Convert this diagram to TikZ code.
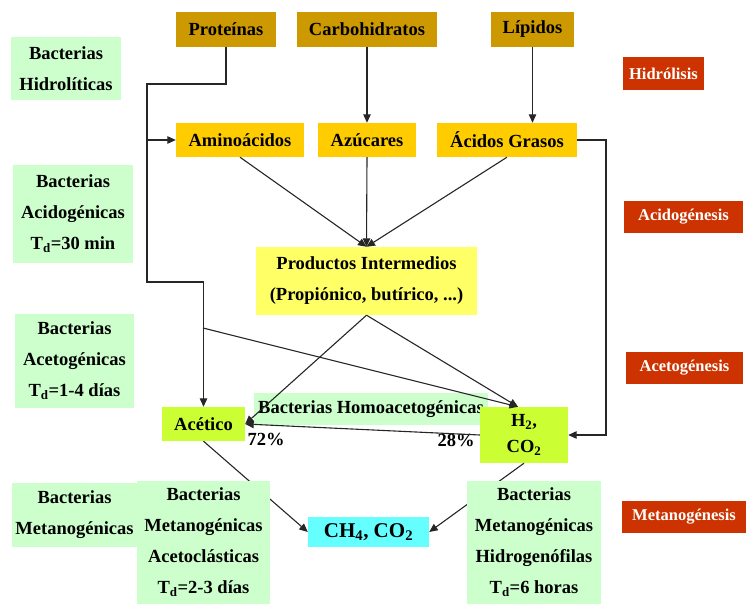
\documentclass[tikz,border=0pt]{standalone}
\usepackage{fontspec}
\setmainfont{Liberation Serif}
\usetikzlibrary{arrows.meta}
\definecolor{oro}{HTML}{CC9900}
\definecolor{ambar}{HTML}{FFCC00}
\definecolor{amarillo}{HTML}{FFFF66}
\definecolor{verdeclaro}{HTML}{CCFFCC}
\definecolor{lima}{HTML}{CCFF33}
\definecolor{cian}{HTML}{66FFFF}
\definecolor{rojo}{HTML}{CC3300}
\begin{document}
\begin{tikzpicture}[x=1pt,y=-1pt,
        caja/.style={inner sep=0pt,align=center,font=\fontsize{18.5}{31}\selectfont\bfseries},
        sustrato/.style={caja,fill=oro},
        monomero/.style={caja,fill=ambar},
        bacteria/.style={caja,fill=verdeclaro},
        producto/.style={caja,fill=lima},
        etapa/.style={caja,fill=rojo,text=white,font=\fontsize{16.5}{20}\selectfont\bfseries},
        linea/.style={line width=1.1pt,draw=black!85},
        flecha/.style={linea,-{Triangle[length=8.5pt,width=7.5pt]}}]
        \useasboundingbox (0,0) rectangle (746,604);
        \node[sustrato,minimum width=100,minimum height=35] (prot) at (226,29.5) {Proteínas};
        \node[sustrato,minimum width=140,minimum height=35] (carb) at (367,29.5) {Carbohidratos};
        \node[sustrato,minimum width=83,minimum height=35] (lip) at (532.5,29.5) {Lípidos};
        \node[bacteria,minimum width=110,minimum height=63] (bhid) at (66,68.5) {Bacterias\\Hidrolíticas};
        \node[etapa,minimum width=81,minimum height=33] (hidr) at (663.5,73.5) {Hidrólisis};
        \node[monomero,minimum width=128,minimum height=34] (amino) at (240,140) {Aminoácidos};
        \node[monomero,minimum width=98,minimum height=34] (azuc) at (367,140) {Azúcares};
        \node[monomero,minimum width=140,minimum height=34] (acgr) at (507,140) {Ácidos Grasos};
        \node[bacteria,minimum width=120,minimum height=98] (bacid) at (73,214) {Bacterias\\Acidogénicas\\T\textsubscript{d}=30 min};
        \node[etapa,minimum width=119,minimum height=32] (acidog) at (683.5,217) {Acidogénesis};
        \node[caja,fill=amarillo,minimum width=221,minimum height=68] (prod) at (366.5,281) {Productos Intermedios\\(Propiónico, butírico, ...)};
        \node[bacteria,minimum width=119,minimum height=94] (bacet) at (74.5,361) {Bacterias\\Acetogénicas\\T\textsubscript{d}=1-4 días};
        \node[etapa,minimum width=117,minimum height=32] (acetog) at (684.5,368) {Acetogénesis};
        \node[bacteria,minimum width=234,minimum height=32] (bhomo) at (371,409) {Bacterias Homoacetogénicas};
        \node[producto,minimum width=83,minimum height=34] (acet) at (203.5,424) {Acético};
        \node[producto,minimum width=88,minimum height=56] (h2) at (524,435) {H\textsubscript{2},\\[-5pt]CO\textsubscript{2}};
        \node[caja,fill=cian,minimum width=121,minimum height=30,font=\fontsize{21}{24}\selectfont\bfseries] (ch4) at (368.5,532) {CH\textsubscript{4}, CO\textsubscript{2}};
        \node[bacteria,minimum width=125,minimum height=64] (bmet) at (74.5,515) {Bacterias\\Metanogénicas};
        \node[etapa,minimum width=124,minimum height=32] (metanog) at (684,517) {Metanogénesis};
        \node[caja] (p72) at (266,439) {72\%};
        \node[caja] (p28) at (456,440) {28\%};
        \coordinate (codo1) at (147,84);
        \coordinate (codo2) at (147,282);
        \coordinate (rama1) at (147,140);
        \coordinate (rama2) at (203,328);
        \coordinate (codo4) at (606,140);
        \draw[flecha] (carb.south) -- (azuc.north);
        \draw[flecha] (lip.south) -- (lip.south |- acgr.north);
        \draw[flecha] (prot.south) |- (codo1) -- (codo2) -| (acet.north);
        \draw[flecha] (rama1) -- (amino.west);
        \draw[flecha] (amino.south) -- (prod.north);
        \draw[flecha] (azuc.south) -- (prod.north);
        \draw[flecha] (acgr.south) -- (prod.north);
        \draw[flecha] (prod.south) -- (acet.east);
        \draw[flecha] (prod.south) -- ([xshift=-6pt]h2.north);
        \draw[flecha] (rama2) -- ([xshift=-6pt]h2.north);
        \draw[flecha] (h2.west) -- (acet.east);
        \draw[flecha] (acgr.east) -- (codo4) |- (h2.east);
        \draw[flecha] (acet.south) -- (ch4.west);
        \draw[flecha] (h2.south) -- (ch4.east);
        \node[bacteria,minimum width=133,minimum height=123] (bacl) at (203.5,542.5) {Bacterias\\Metanogénicas\\Acetoclásticas\\T\textsubscript{d}=2-3 días};
        \node[bacteria,minimum width=134,minimum height=123] (bhidr) at (534,542.5) {Bacterias\\Metanogénicas\\Hidrogenófilas\\T\textsubscript{d}=6 horas};
\end{tikzpicture}
\end{document}
